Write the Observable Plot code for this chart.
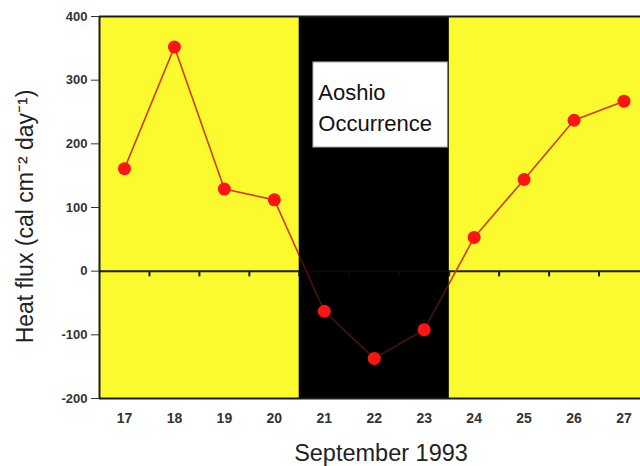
<!DOCTYPE html>
<html>
<head>
<meta charset="utf-8">
<script src="https://cdn.jsdelivr.net/npm/d3@7"></script>
<script src="https://cdn.jsdelivr.net/npm/@observablehq/plot@0.6"></script>
<style>
  html, body { margin: 0; padding: 0; background: #ffffff; }
  #chart svg { display: block; }
</style>
</head>
<body>
<div id="chart"></div>
<script>
// Daily net surface heat flux, September 1993
const days = [17, 18, 19, 20, 21, 22, 23, 24, 25, 26, 27];
const flux = [161, 352, 129, 112, -63, -137, -92, 53, 144, 237, 267];

// Period of the Aoshio occurrence (in day units)
const aoshioStart = 20.5;
const aoshioEnd = 23.5;

const yTicks = [-200, -100, 0, 100, 200, 300, 400];
const zeroTicks = [17.5, 18.5, 19.5, 20.5, 21.5, 22.5, 23.5, 24.5, 25.5, 26.5];

const data = days.map((d, i) => ({day: d, flux: flux[i]}));
const aoshio = [{start: aoshioStart, end: aoshioEnd, label: "Aoshio\nOccurrence"}];

const ink = "#1c1c1c";
const yellow = "#fafa2e";

const chart = Plot.plot({
  width: 640,
  height: 466,
  marginLeft: 99,
  marginRight: 0,
  marginTop: 16,
  marginBottom: 68,
  style: {fontFamily: "'Liberation Sans', Arial, sans-serif", background: "#ffffff"},
  x: {domain: [16.5, 27.33]},
  y: {domain: [-200, 400]},
  marks: [
    Plot.frame({fill: yellow, stroke: null}),
    Plot.rect(aoshio, {x1: "start", x2: "end", y1: -200, y2: 400, fill: "black"}),
    Plot.ruleY([0], {stroke: ink, strokeWidth: 2}),
    Plot.ruleX(zeroTicks, {y1: 0, y2: -9, stroke: ink, strokeWidth: 2}),
    Plot.line(data, {x: "day", y: "flux", stroke: "#d23c0c", strokeWidth: 1.6}),
    // the black band dims the line that passes through it
    Plot.rect(aoshio, {x1: "start", x2: "end", y1: -200, y2: 400, fill: "black", fillOpacity: 0.65}),
    Plot.dot(data, {x: "day", y: "flux", r: 6.5, fill: "#ff1414", stroke: null}),
    Plot.rect(aoshio, {x1: d => d.start + 0.28, x2: d => d.end - 0.02, y1: 194, y2: 328, fill: "white", stroke: "#777", strokeWidth: 1}),
    Plot.text(aoshio, {x: d => d.start + 0.38, y: 302, text: "label", textAnchor: "start", lineAnchor: "top", lineHeight: 1.38, fontSize: 22, fill: "#111"}),
    Plot.ruleY([-200, 400], {stroke: ink, strokeWidth: 2}),
    Plot.ruleX([16.5], {stroke: ink, strokeWidth: 2}),
    Plot.axisY({ticks: yTicks, tickFormat: d => String(d), tickSize: 8, tickPadding: 4, fontSize: 13, fontWeight: "bold", color: "#333", label: null}),
    Plot.axisX({ticks: days, tickSize: 0, tickPadding: 15, fontSize: 14, fontWeight: "bold", color: "#333", label: null}),
    Plot.text(["Heat flux (cal cm\u207B\u00B2 day\u207B\u00B9)"], {frameAnchor: "left", textAnchor: "middle", lineAnchor: "middle", dx: -74, dy: 9, rotate: -90, fontSize: 23, fill: "#222"}),
    Plot.text(["September 1993"], {frameAnchor: "bottom", textAnchor: "middle", dx: 11, dy: 62, fontSize: 23.5, fill: "#222"})
  ]
});

document.getElementById("chart").appendChild(chart);
</script>
</body>
</html>
